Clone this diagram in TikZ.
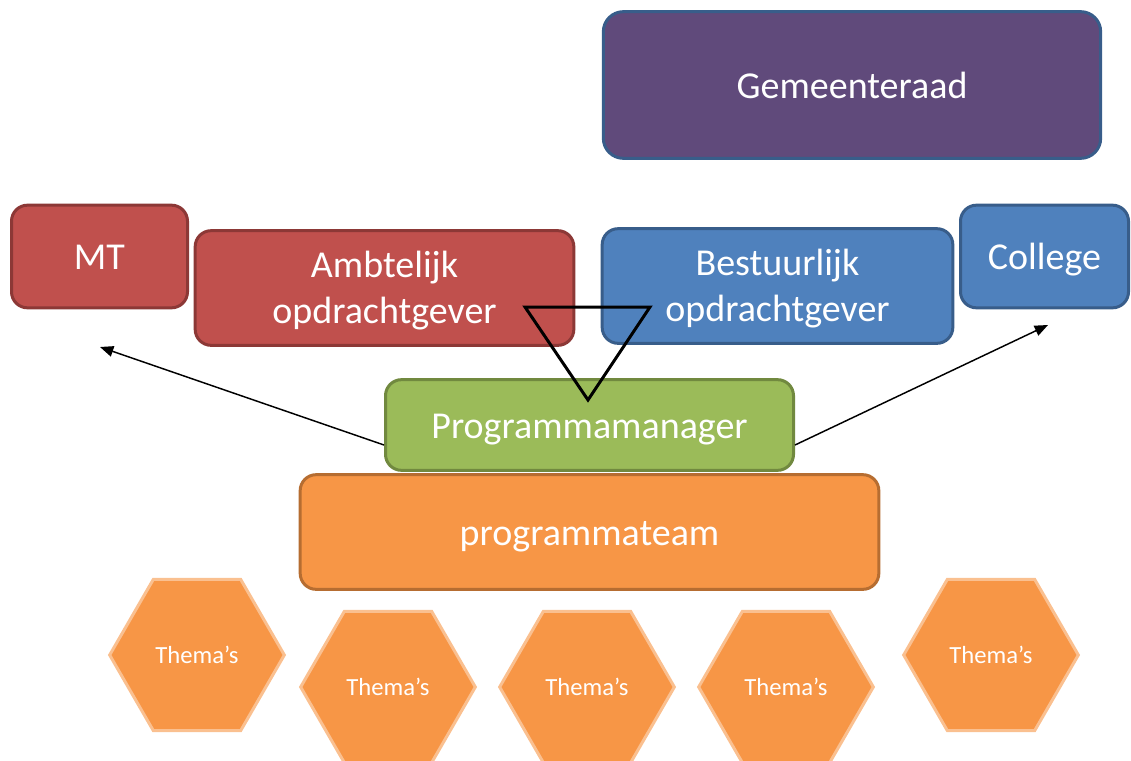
\documentclass[tikz,border=0pt]{standalone}
\usepackage{fontspec}
\setmainfont{Carlito}
\usetikzlibrary{shapes.geometric,arrows.meta}

\definecolor{paars}{HTML}{604A7B}
\definecolor{rood}{HTML}{C0504D}
\definecolor{roodrand}{HTML}{8C3836}
\definecolor{blauw}{HTML}{4F81BD}
\definecolor{blauwrand}{HTML}{385D8A}
\definecolor{groen}{HTML}{9BBB59}
\definecolor{groenrand}{HTML}{71893F}
\definecolor{oranje}{HTML}{F79646}
\definecolor{oranjerand}{HTML}{B66D31}
\definecolor{oranjelicht}{HTML}{FAC090}

\tikzset{
  box/.style={rectangle,rounded corners=12pt,line width=2.25pt,text=white,
    align=center,inner sep=0pt,font=\fontsize{28.5}{34}\selectfont},
  oneline/.style={text height=22pt,text depth=2pt},
  redbox/.style={box,fill=rood,draw=roodrand},
  bluebox/.style={box,fill=blauw,draw=blauwrand},
  hexa/.style={regular polygon,regular polygon sides=6,minimum size=131pt,
    fill=oranje,draw=oranjelicht,line width=2.25pt,text=white,inner sep=0pt,
    font=\fontsize{18.5}{22}\selectfont}
}

\begin{document}
\begin{tikzpicture}[x=0.75pt,y=-0.75pt]
  \useasboundingbox (0,0) rectangle (1131,760);

  \node[box,oneline,fill=paars,draw=blauwrand,rounded corners=15pt,
    minimum width=373pt,minimum height=110pt] (raad) at (852,85) {Gemeenteraad};

  \node[redbox,oneline,minimum width=132pt,minimum height=77pt] (mt) at (99.5,256.5) {MT};
  \node[redbox,minimum width=284pt,minimum height=86pt] (ambt) at (384.5,288) {\strut Ambtelijk\\opdrachtgever};
  \node[bluebox,minimum width=263pt,minimum height=86pt] (best) at (777.5,286) {\strut Bestuurlijk\\opdrachtgever};
  \node[bluebox,oneline,minimum width=126pt,minimum height=77pt] (college) at (1044.5,256.5) {College};

  \node[box,oneline,fill=groen,draw=groenrand,minimum width=306pt,minimum height=68pt] (pm) at (589.5,425) {Programmamanager};
  \node[box,oneline,fill=oranje,draw=oranjerand,minimum width=434pt,minimum height=86pt] (team) at (589.5,532) {programmateam};

  \node[hexa] (t1) at (197,655) {Thema’s};
  \node[hexa] (t2) at (388,687) {Thema’s};
  \node[hexa] (t3) at (587,687) {Thema’s};
  \node[hexa] (t4) at (786,687) {Thema’s};
  \node[hexa] (t5) at (991,655) {Thema’s};

  % driehoek tussen de opdrachtgevers en de manager
  \draw[line width=2.25pt] (525,307) -- (650,307) -- (588,400) -- cycle;

  \coordinate (naarmt) at (100,347);
  \coordinate (naarcollege) at (1048,325);
  \draw[line width=1.1pt,-{Triangle[length=10pt,width=8pt]}] ([yshift=-15pt]pm.west) -- (naarmt);
  \draw[line width=1.1pt,-{Triangle[length=10pt,width=8pt]}] ([yshift=-15pt]pm.east) -- (naarcollege);
\end{tikzpicture}
\end{document}
